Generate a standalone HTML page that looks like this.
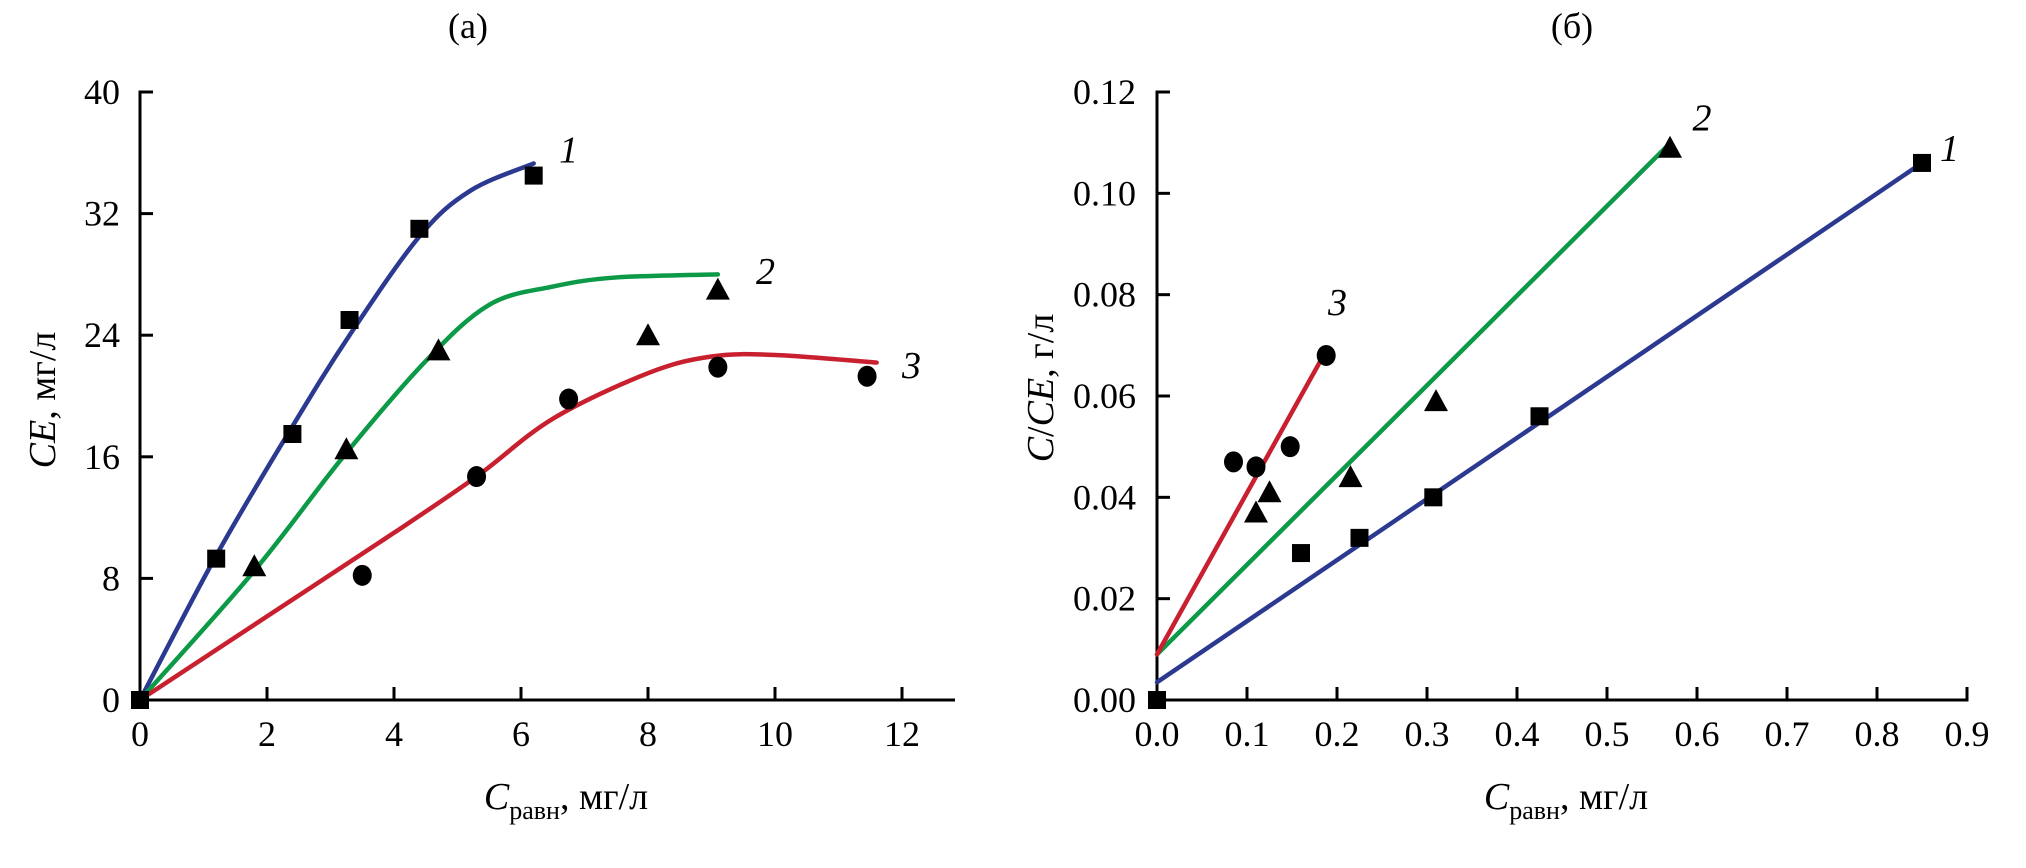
<!DOCTYPE html>
<html><head><meta charset="utf-8"><style>
html,body{margin:0;padding:0;background:#fff}
svg{display:block}
text{font-family:"Liberation Serif",serif;fill:#000}
</style></head><body>
<svg id="chart" width="2026" height="868" viewBox="0 0 2026 868" xmlns="http://www.w3.org/2000/svg"></svg>
<script>
// ---------- Panel (a) data ----------
const aXTicks = [0,2,4,6,8,10,12];
const aYTicks = [0,8,16,24,32,40];
const a1PointsX = [0,1.2,2.4,3.3,4.4,6.2];
const a1PointsY = [0,9.3,17.5,25,31,34.5];
const a1CurveX = [0,1.2,2.4,3.3,4.4,5.2,6.2];
const a1CurveY = [0,9.5,18,24,30.5,33.5,35.3];
const a2PointsX = [1.8,3.25,4.7,8,9.1];
const a2PointsY = [8.8,16.5,23,24,27];
const a2CurveX = [0,1.8,3.2,4.5,5.5,6.5,7.5,9.1];
const a2CurveY = [0,8.5,16,22.3,26,27.2,27.8,28];
const a3PointsX = [3.5,5.3,6.75,9.1,11.45];
const a3PointsY = [8.2,14.7,19.8,21.9,21.3];
const a3CurveX = [0,2,4,5.3,6.5,8,9,10,11.6];
const a3CurveY = [0,5.5,11,14.7,18.5,21.5,22.6,22.7,22.2];
// ---------- Panel (б) data ----------
const bXTicks = [0,0.1,0.2,0.3,0.4,0.5,0.6,0.7,0.8,0.9];
const bYTicks = [0,0.02,0.04,0.06,0.08,0.10,0.12];
const b1PointsX = [0,0.16,0.225,0.307,0.425,0.85];
const b1PointsY = [0,0.029,0.032,0.040,0.056,0.106];
const b1LineX = [0,0.85];
const b1LineY = [0.0035,0.106];
const b2PointsX = [0.11,0.125,0.215,0.31,0.57];
const b2PointsY = [0.037,0.041,0.044,0.059,0.109];
const b2LineX = [0,0.565];
const b2LineY = [0.009,0.109];
const b3PointsX = [0.085,0.11,0.148,0.188];
const b3PointsY = [0.047,0.046,0.050,0.068];
const b3LineX = [0,0.185];
const b3LineY = [0.009,0.068];

const NS="http://www.w3.org/2000/svg";
const svg=document.getElementById('chart');
function mk(tag,attrs,parent){const e=document.createElementNS(NS,tag);for(const k in attrs)e.setAttribute(k,attrs[k]);(parent||svg).appendChild(e);return e;}
const BLUE="#2b3990",GREEN="#0d9a48",RED="#c8202f";

// axis functions
const ax=v=>140+v*63.5, ay=v=>700-v*15.2;
const bx=v=>1157+v*900, by=v=>700-v*5066.67;

function smooth(xs,ys,fx,fy){
  const p=xs.map((x,i)=>[fx(x),fy(ys[i])]);
  let d="M"+p[0][0]+","+p[0][1];
  for(let i=0;i<p.length-1;i++){
    const p0=p[i-1]||p[i],p1=p[i],p2=p[i+1],p3=p[i+2]||p2;
    const c1=[p1[0]+(p2[0]-p0[0])/6,p1[1]+(p2[1]-p0[1])/6];
    const c2=[p2[0]-(p3[0]-p1[0])/6,p2[1]-(p3[1]-p1[1])/6];
    d+=" C"+c1+" "+c2+" "+p2;
  }
  return d;
}

// ---- axes panel a ----
let g=mk('g',{});


mk('path',{d:"M153,92 H140 V700 H955",fill:"none",stroke:"#000","stroke-width":3},g);
aXTicks.forEach(v=>{
  const x=ax(v);
  if(v>0){const t=mk('line',{x1:x,x2:x,y1:700,y2:687,stroke:"#000","stroke-width":3},g);}
  const l=mk('text',{x:x,y:746,"font-size":36,"text-anchor":"middle"},g);l.textContent=v;
  
  
});
aYTicks.forEach(v=>{
  const y=ay(v);
  if(v>0&&v<40){mk('line',{x1:140,x2:153,y1:y,y2:y,stroke:"#000","stroke-width":3},g);}
  const l=mk('text',{x:120,y:y+12,"font-size":36,"text-anchor":"end"},g);l.textContent=v;
  
  
});
// ---- axes panel b ----
g=mk('g',{});


mk('path',{d:"M1170,92 H1157 V700 H1967 V687",fill:"none",stroke:"#000","stroke-width":3},g);
bXTicks.forEach(v=>{
  const x=bx(v);
  if(v>0&&v<0.9){mk('line',{x1:x,x2:x,y1:700,y2:687,stroke:"#000","stroke-width":3},g);}
  const l=mk('text',{x:x,y:746,"font-size":36,"text-anchor":"middle"},g);l.textContent=v.toFixed(1);
  
  
});
bYTicks.forEach(v=>{
  const y=by(v);
  if(v>0&&v<0.12){mk('line',{x1:1157,x2:1170,y1:y,y2:y,stroke:"#000","stroke-width":3},g);}
  const l=mk('text',{x:1136,y:y+12,"font-size":36,"text-anchor":"end"},g);l.textContent=v.toFixed(2);
  
  
});

// ---- curves ----
function curve(d,color,name){const p=mk('path',{d:d,fill:"none",stroke:color,"stroke-width":4.5,"stroke-linecap":"round"});}
curve(smooth(a1CurveX,a1CurveY,ax,ay),BLUE,'curve-a-1');
curve(smooth(a2CurveX,a2CurveY,ax,ay),GREEN,'curve-a-2');
curve(smooth(a3CurveX,a3CurveY,ax,ay),RED,'curve-a-3');
curve("M"+bx(b1LineX[0])+","+by(b1LineY[0])+" L"+bx(b1LineX[1])+","+by(b1LineY[1]),BLUE,'line-b-1');
curve("M"+bx(b2LineX[0])+","+by(b2LineY[0])+" L"+bx(b2LineX[1])+","+by(b2LineY[1]),GREEN,'line-b-2');
curve("M"+bx(b3LineX[0])+","+by(b3LineY[0])+" L"+bx(b3LineX[1])+","+by(b3LineY[1]),RED,'line-b-3');

// ---- markers ----
function squares(xs,ys,fx,fy){xs.forEach((v,i)=>{const x=fx(v),y=fy(ys[i]);const r=mk('rect',{x:x-9,y:y-9,width:18,height:18,fill:"#000"});});}
function tris(xs,ys,fx,fy){xs.forEach((v,i)=>{const x=fx(v),y=fy(ys[i]);const r=mk('polygon',{points:`${x},${y-12} ${x-12},${y+10} ${x+12},${y+10}`,fill:"#000"});});}
function circs(xs,ys,fx,fy){xs.forEach((v,i)=>{const x=fx(v),y=fy(ys[i]);const r=mk('ellipse',{cx:x,cy:y,rx:9.5,ry:10.5,fill:"#000"});});}
squares(a1PointsX,a1PointsY,ax,ay);tris(a2PointsX,a2PointsY,ax,ay);circs(a3PointsX,a3PointsY,ax,ay);
squares(b1PointsX,b1PointsY,bx,by);tris(b2PointsX,b2PointsY,bx,by);circs(b3PointsX,b3PointsY,bx,by);

// ---- curve number labels ----
function num(t,x,y){const e=mk('text',{x:x,y:y,"font-size":38,"font-style":"italic"});e.textContent=t;}
num('1',ax(6.6),ay(35.5)+2);num('2',ax(9.7),ay(27.5)+2);num('3',ax(12.0),ay(21.3)+2);
num('1',bx(0.87),by(0.106)-2);num('2',bx(0.595),by(0.112)-2);num('3',bx(0.19),by(0.076));
</script>
<svg style="position:absolute;left:0;top:0" width="2026" height="868">
<text x="468" y="38" font-size="36" text-anchor="middle">(a)</text>
<text x="1572" y="38" font-size="36" text-anchor="middle">(б)</text>
<text x="566" y="809" font-size="38" text-anchor="middle"><tspan font-style="italic">C</tspan><tspan font-size="26" dy="10">равн</tspan><tspan dy="-10">, мг/л</tspan></text>
<text x="1566" y="809" font-size="38" text-anchor="middle"><tspan font-style="italic">C</tspan><tspan font-size="26" dy="10">равн</tspan><tspan dy="-10">, мг/л</tspan></text>
<text transform="translate(55,400) rotate(-90)" font-size="38" text-anchor="middle"><tspan font-style="italic">CE</tspan>, мг/л</text>
<text transform="translate(1053,388) rotate(-90)" font-size="38" text-anchor="middle"><tspan font-style="italic">C</tspan>/<tspan font-style="italic">CE</tspan>, г/л</text>
</svg>
</body></html>
